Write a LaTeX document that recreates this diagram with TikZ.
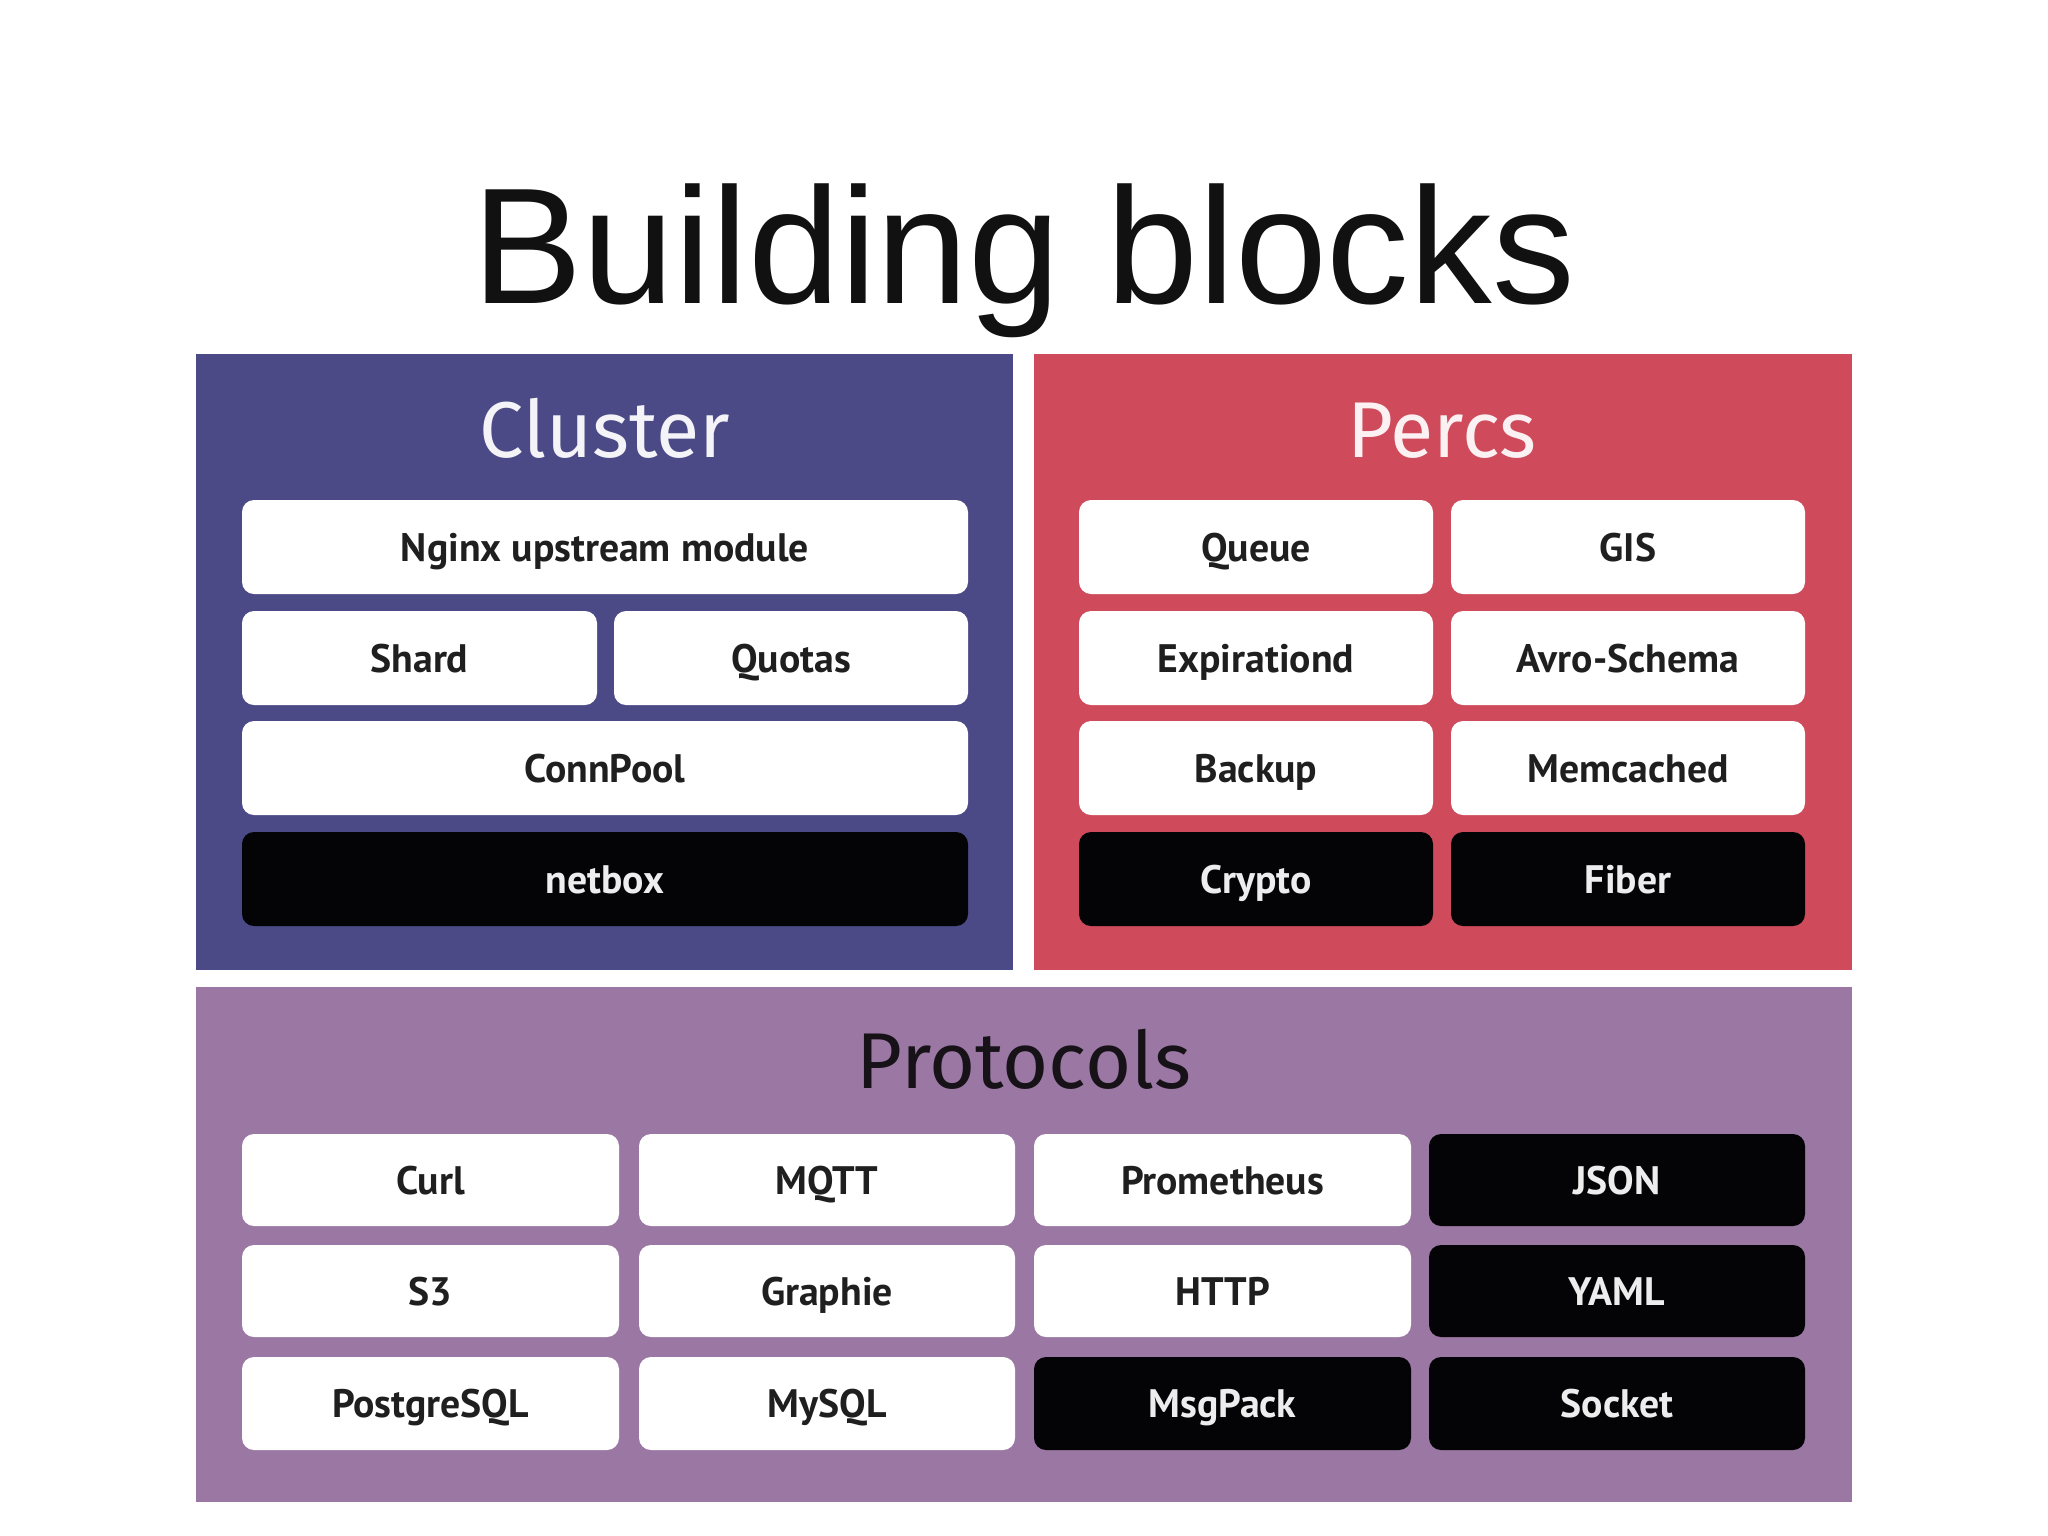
\documentclass[tikz,border=0pt]{standalone}
\usepackage{fontspec}
\setmainfont{Liberation Sans}
\newfontfamily\labfont{PT Sans}
\newfontfamily\headfont{Fira Sans}
\definecolor{clusterc}{HTML}{4B4A86}
\definecolor{percsc}{HTML}{CF4A5A}
\definecolor{protoc}{HTML}{9B77A3}
\definecolor{boxblack}{HTML}{040306}
\definecolor{titlec}{HTML}{111111}
\tikzset{
  panel/.style={inner sep=0pt, outer sep=0pt, draw=none},
  lab/.style={inner sep=0pt, outer sep=0pt, draw=none, rounded corners=0.12cm,
    font=\labfont\bfseries\fontsize{11.3}{13}\selectfont, text height=8pt, text depth=0pt},
  wbox/.style={lab, fill=white, text=black!88},
  bbox/.style={lab, fill=boxblack, text=white!93!black},
  head/.style={font=\headfont\fontsize{22.5}{26}\selectfont, anchor=base}
}
\newcommand\blk[7]{\node[#6, minimum width={(#4-#2)*0.01cm}, minimum height={(#5-#3)*0.01cm}] (#1) at ({(#2+#4)/2},{(#3+#5)/2}) {#7};}
\begin{document}
\begin{tikzpicture}[x=0.01cm,y=-0.01cm]
\useasboundingbox[fill=white] (0,0) rectangle (2048,1536);
% title
\node[font=\fontsize{47}{52}\selectfont, text=titlec, anchor=base] (title) at (1024,303) {Building blocks};
% panels
\blk{cluster}{196}{354}{1013}{970}{panel, fill=clusterc}{}
\blk{percs}{1034}{354}{1852}{970}{panel, fill=percsc}{}
\blk{protocols}{196}{987}{1852}{1502}{panel, fill=protoc}{}
\node[head, text=white!94!clusterc] (clustert) at (605,457) {Cluster};
\node[head, text=white!92!percsc] (percst) at (1442,457) {Percs};
\node[head, text=black!85!protoc] (protocolst) at (1024,1088) {Protocols};
% cluster boxes
\blk{nginx}{242}{500}{968}{594}{wbox}{Nginx upstream module}
\blk{shard}{242}{611}{597}{705}{wbox}{Shard}
\blk{quotas}{614}{611}{968}{705}{wbox}{Quotas}
\blk{connpool}{242}{721}{968}{815}{wbox}{ConnPool}
\blk{netbox}{242}{832}{968}{926}{bbox}{netbox}
% percs boxes
\blk{queue}{1079}{500}{1433}{594}{wbox}{Queue}
\blk{gis}{1451}{500}{1805}{594}{wbox}{GIS}
\blk{expirationd}{1079}{611}{1433}{705}{wbox}{Expirationd}
\blk{avro}{1451}{611}{1805}{705}{wbox}{Avro-Schema}
\blk{backup}{1079}{721}{1433}{815}{wbox}{Backup}
\blk{memcached}{1451}{721}{1805}{815}{wbox}{Memcached}
\blk{crypto}{1079}{832}{1433}{926}{bbox}{Crypto}
\blk{fiber}{1451}{832}{1805}{926}{bbox}{Fiber}
% protocols boxes
\blk{curl}{242}{1134}{619}{1226}{wbox}{Curl}
\blk{mqtt}{639}{1134}{1015}{1226}{wbox}{MQTT}
\blk{prometheus}{1034}{1134}{1411}{1226}{wbox}{Prometheus}
\blk{json}{1429}{1134}{1805}{1226}{bbox}{JSON}
\blk{s3}{242}{1245}{619}{1337}{wbox}{S3}
\blk{graphie}{639}{1245}{1015}{1337}{wbox}{Graphie}
\blk{http}{1034}{1245}{1411}{1337}{wbox}{HTTP}
\blk{yaml}{1429}{1245}{1805}{1337}{bbox}{YAML}
\blk{postgresql}{242}{1357}{619}{1450}{wbox}{PostgreSQL}
\blk{mysql}{639}{1357}{1015}{1450}{wbox}{MySQL}
\blk{msgpack}{1034}{1357}{1411}{1450}{bbox}{MsgPack}
\blk{socket}{1429}{1357}{1805}{1450}{bbox}{Socket}
\end{tikzpicture}
\end{document}
